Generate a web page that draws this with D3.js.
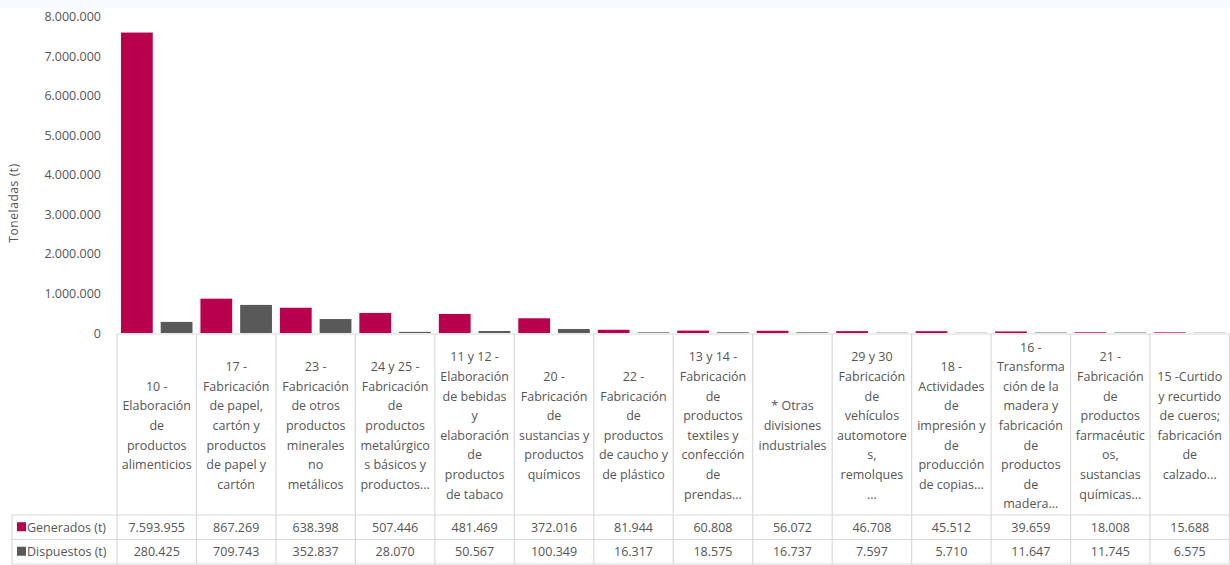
<!DOCTYPE html>
<html>
<head>
<meta charset="utf-8">
<script src="https://cdn.jsdelivr.net/npm/d3@7"></script>
<style>
  body { margin: 0; background: #fff; }
  svg { display: block; font-family: "Open Sans", sans-serif; }
  text { fill: #555555; }
</style>
</head>
<body>
<svg id="chart" width="1230" height="565"></svg>
<script>
// categories, with their wrapped label lines as in the table header
const categories = [
	["10 -", "Elaboración", "de", "productos", "alimenticios"],
	["17 -", "Fabricación", "de papel,", "cartón y", "productos", "de papel y", "cartón"],
	["23 -", "Fabricación", "de otros", "productos", "minerales", "no", "metálicos"],
	["24 y 25 -", "Fabricación", "de", "productos", "metalúrgico", "s básicos y", "productos..."],
	["11 y 12 -", "Elaboración", "de bebidas", "y", "elaboración", "de", "productos", "de tabaco"],
	["20 -", "Fabricación", "de", "sustancias y", "productos", "químicos"],
	["22 -", "Fabricación", "de", "productos", "de caucho y", "de plástico"],
	["13 y 14 -", "Fabricación", "de", "productos", "textiles y", "confección", "de", "prendas..."],
	["* Otras", "divisiones", "industriales"],
	["29 y 30", "Fabricación", "de", "vehículos", "automotore", "s,", "remolques", "..."],
	["18 -", "Actividades", "de", "impresión y", "de", "producción", "de copias..."],
	["16 -", "Transforma", "ción de la", "madera y", "fabricación", "de", "productos", "de", "madera..."],
	["21 -", "Fabricación", "de", "productos", "farmacéutic", "os,", "sustancias", "químicas..."],
	["15 -Curtido", "y recurtido", "de cueros;", "fabricación", "de", "calzado..."]
];
const generados = [7593955, 867269, 638398, 507446, 481469, 372016, 81944, 60808, 56072, 46708, 45512, 39659, 18008, 15688];
const dispuestos = [280425, 709743, 352837, 28070, 50567, 100349, 16317, 18575, 16737, 7597, 5710, 11647, 11745, 6575];
const seriesNames = ["Generados (t)", "Dispuestos (t)"];
const yTicks = [0, 1000000, 2000000, 3000000, 4000000, 5000000, 6000000, 7000000, 8000000];

const colors = ["#b8004c", "#595959"];
const lineColor = "#d9d9d9";
const plot = { left: 117, right: 1229.5, top: 16.5, base: 333 };
const table = { legendLeft: 12, headBottom: 515, rowH: 24.5 };

const locale = d3.formatLocale({ decimal: ",", thousands: ".", grouping: [3], currency: ["", ""] });
const fmt = locale.format(",d");

const svg = d3.select("#chart");

svg.append("rect")
	.attr("width", 1230)
	.attr("height", 8)
	.style("fill", "#f7fafc");

const x = d3.scaleBand()
	.domain(d3.range(categories.length))
	.range([plot.left, plot.right]);

const xs = d3.scaleBand()
	.domain([0, 1])
	.range([0, x.bandwidth()])
	.paddingInner(0.2)
	.paddingOuter(0.1);

const y = d3.scaleLinear()
	.domain([0, 8000000])
	.range([plot.base, plot.top]);

// y axis
const yAxis = d3.axisLeft(y)
	.tickValues(yTicks)
	.tickSize(0)
	.tickPadding(3)
	.tickFormat(fmt);

svg.append("g")
	.attr("transform", "translate(104,0)")
	.call(yAxis)
	.call(g => g.select(".domain").remove())
	.call(g => g.selectAll("text")
		.style("fill", "#555555")
		.attr("font-size", 12.5)
		.attr("font-family", "Open Sans, sans-serif"));

svg.append("text")
	.attr("transform", "translate(18,203) rotate(-90)")
	.attr("text-anchor", "middle")
	.attr("font-size", 12)
	.attr("letter-spacing", 0.6)
	.text("Toneladas (t)");

// bars
const series = [generados, dispuestos];
series.forEach((values, s) => {
	svg.append("g")
		.selectAll("rect")
		.data(values)
		.join("rect")
		.attr("x", (d, i) => x(i) + xs(s))
		.attr("width", xs.bandwidth())
		.attr("y", d => y(d))
		.attr("height", d => y(0) - y(d))
		.attr("fill", colors[s]);
});

// data table
const rowTop = r => table.headBottom + r * table.rowH;
const tableBottom = rowTop(2);
const grid = svg.append("g")
	.attr("stroke", lineColor)
	.attr("stroke-width", 1.2)
	.attr("fill", "none");

grid.append("line")
	.attr("x1", plot.left).attr("x2", plot.right)
	.attr("y1", plot.base + 1).attr("y2", plot.base + 1);

[0, 1, 2].forEach(r => {
	grid.append("line")
		.attr("x1", table.legendLeft).attr("x2", plot.right)
		.attr("y1", rowTop(r)).attr("y2", rowTop(r));
});

grid.selectAll(".col")
	.data(d3.range(categories.length + 1))
	.join("line")
	.attr("x1", i => i < categories.length ? x(i) : plot.right)
	.attr("x2", i => i < categories.length ? x(i) : plot.right)
	.attr("y1", plot.base + 1)
	.attr("y2", tableBottom);

grid.append("line")
	.attr("x1", table.legendLeft).attr("x2", table.legendLeft)
	.attr("y1", rowTop(0)).attr("y2", tableBottom);

// header labels
const lineH = 19.6;
const headMid = (plot.base + table.headBottom) / 2 + 6;
svg.append("g")
	.selectAll("text")
	.data(categories)
	.join("text")
	.attr("text-anchor", "middle")
	.attr("font-size", 12.5)
	.attr("x", (d, i) => x(i) + x.bandwidth() / 2)
	.attr("y", d => headMid - (d.length - 1) * lineH / 2)
	.selectAll("tspan")
	.data(d => d)
	.join("tspan")
	.attr("x", function () { return this.parentNode.getAttribute("x"); })
	.attr("dy", (d, j) => j === 0 ? 0 : lineH)
	.text(d => d);

// value rows and legend keys
series.forEach((values, s) => {
	const mid = rowTop(s) + table.rowH / 2 + 4.5;
	svg.append("g")
		.selectAll("text")
		.data(values)
		.join("text")
		.attr("text-anchor", "middle")
		.attr("font-size", 12.5)
		.attr("x", (d, i) => x(i) + x.bandwidth() / 2)
		.attr("y", mid)
		.text(d => fmt(d));

	svg.append("rect")
		.attr("x", 17)
		.attr("y", mid - 9.5)
		.attr("width", 9)
		.attr("height", 9)
		.attr("fill", colors[s]);

	svg.append("text")
		.attr("x", 27)
		.attr("y", mid)
		.attr("font-size", 12.5)
		.text(seriesNames[s]);
});
</script>
</body>
</html>
